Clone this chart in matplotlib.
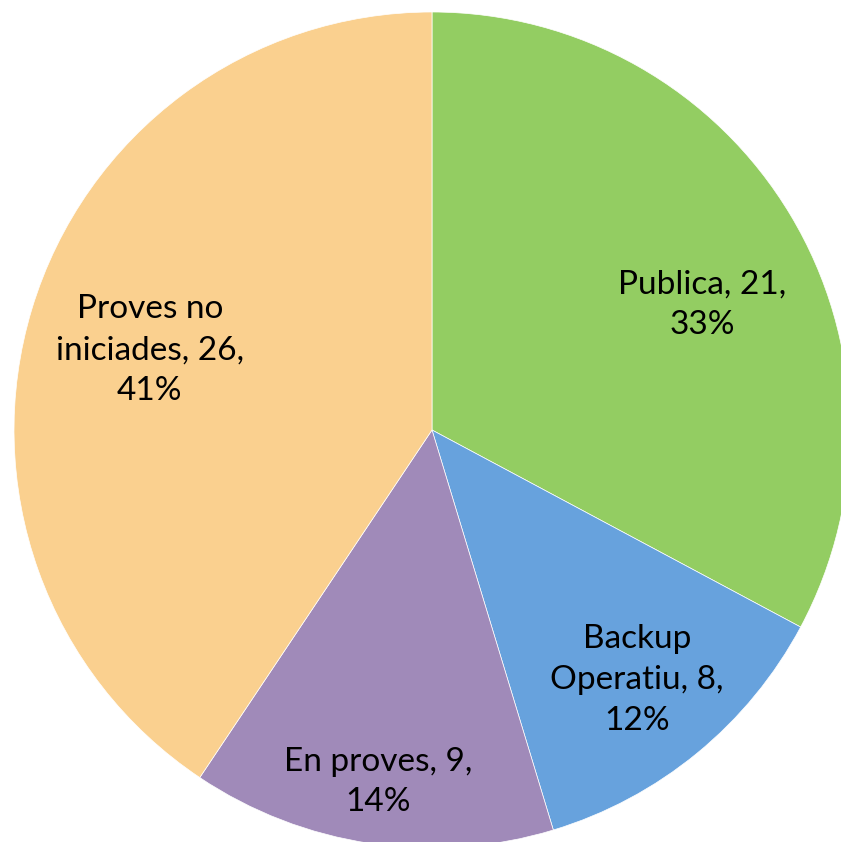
import matplotlib.pyplot as plt

# slice data (clockwise from 12 o'clock)
categories = ["Publica", "Backup\nOperatiu", "En proves", "Proves no\niniciades"]
values = [21, 8, 9, 26]
percents = ["33%", "12%", "14%", "41%"]
colors = ["#93CD62", "#67A2DD", "#A08AB9", "#FAD08F"]

# label text layout (line breaks differ per slice)
label_texts = [
    "Publica, 21,\n33%",
    "Backup\nOperatiu, 8,\n12%",
    "En proves, 9,\n14%",
    "Proves no\niniciades, 26,\n41%",
]
# label anchor points in data units (pie radius = 1)
label_pos = [(0.646, 0.299), (0.490, -0.598), (-0.129, -0.842), (-0.675, 0.191)]

fig = plt.figure(figsize=(8.41, 8.42), dpi=100)
ax = fig.add_axes([14 / 841, (842 - 848) / 842, 836 / 841, 836 / 842])

ax.pie(values, colors=colors, startangle=90, counterclock=False, radius=1,
       wedgeprops=dict(edgecolor="white", linewidth=0.5))

for txt, (x, y) in zip(label_texts, label_pos):
    ax.text(x, y, txt, ha="center", va="center", fontsize=24,
            family="Lato", color="black", linespacing=1.45)

ax.set_xlim(-1, 1)
ax.set_ylim(-1, 1)
ax.set_aspect("equal")
ax.axis("off")

plt.savefig("out.png", dpi=100)
